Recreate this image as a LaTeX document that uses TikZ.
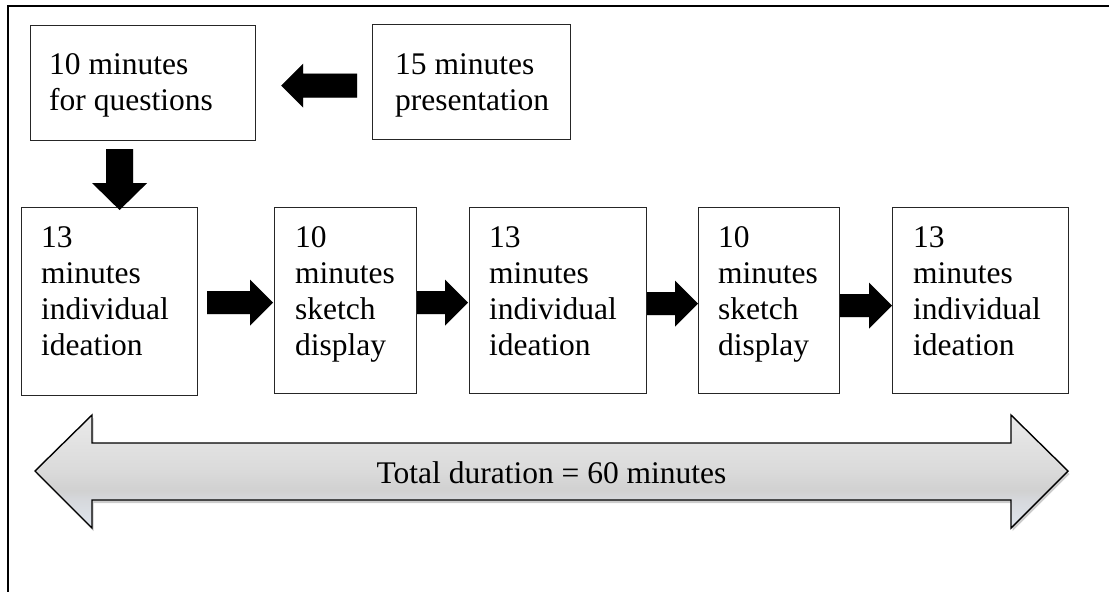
\documentclass[tikz,border=0pt]{standalone}
\usepackage{fontspec}
\setmainfont{Liberation Serif}
\usetikzlibrary{calc}

\definecolor{shA}{RGB}{224,230,238}
\definecolor{shB}{RGB}{214,216,220}
\definecolor{shC}{RGB}{209,209,209}
\definecolor{shD}{RGB}{218,218,218}
\definecolor{shE}{RGB}{226,226,226}
\definecolor{shF}{RGB}{234,234,234}
\pgfdeclareverticalshading{durationfill}{100bp}{%
  color(0bp)=(shA); color(25bp)=(shA); color(37.4bp)=(shB); color(41.8bp)=(shC);
  color(50bp)=(shD); color(62.6bp)=(shE); color(75bp)=(shF); color(100bp)=(shF)}

\tikzset{
  stage/.style={draw=black!85, line width=1.2pt, fill=white, inner sep=0pt, anchor=north west},
  stagetext/.style={anchor=base west, align=left, inner sep=0pt,
    font=\fontsize{31.5}{36}\selectfont},
  blockfill/.style={fill=black},
  blockshadow/.style={fill=black, opacity=0.25, xshift=1pt, yshift=-2pt},
  bigarrow/.style={draw=black, line width=1.4pt, line join=miter, shading=durationfill},
  bigshadow/.style={fill=black, opacity=0.2, xshift=1.5pt, yshift=-3pt},
}

% block arrows: #1 style, #2 tail point, #3 tip point
\newcommand\rblock[3]{%
  \fill[#1] let \p1=(#2), \p2=(#3) in
    (\x1,\y2+11.5pt) -- (\x2-23pt,\y2+11.5pt) -- (\x2-23pt,\y2+23pt) -- (\x2,\y2)
    -- (\x2-23pt,\y2-23pt) -- (\x2-23pt,\y2-11.5pt) -- (\x1,\y2-11.5pt) -- cycle;}
\newcommand\lblock[3]{%
  \fill[#1] let \p1=(#2), \p2=(#3) in
    (\x1,\y2+12pt) -- (\x2+22pt,\y2+12pt) -- (\x2+22pt,\y2+22pt) -- (\x2,\y2)
    -- (\x2+22pt,\y2-22pt) -- (\x2+22pt,\y2-12pt) -- (\x1,\y2-12pt) -- cycle;}
\newcommand\dblock[3]{%
  \fill[#1] let \p1=(#2), \p2=(#3) in
    (\x2+13.5pt,\y1) -- (\x2+13.5pt,\y2+27pt) -- (\x2+27.5pt,\y2+27pt) -- (\x2,\y2)
    -- (\x2-27.5pt,\y2+27pt) -- (\x2-13.5pt,\y2+27pt) -- (\x2-13.5pt,\y1) -- cycle;}

\begin{document}
\begin{tikzpicture}[x=1pt, y=-1pt]
\useasboundingbox (0,0) rectangle (1109,592);
\fill[white] (0,0) rectangle (1109,592);

% outer frame
\draw[line width=2.2pt] (8,592) -- (8,6) -- (1109,6);

% stages
\node[stage, minimum width=225pt, minimum height=115pt] (q)  at (30,25)  {};
\node[stage, minimum width=198pt, minimum height=115pt] (p)  at (372,24) {};
\node[stage, minimum width=176pt, minimum height=188pt] (b1) at (21,207) {};
\node[stage, minimum width=142pt, minimum height=186pt] (b2) at (274,207) {};
\node[stage, minimum width=177pt, minimum height=186pt] (b3) at (469,207) {};
\node[stage, minimum width=141pt, minimum height=186pt] (b4) at (698,207) {};
\node[stage, minimum width=176pt, minimum height=186pt] (b5) at (892,207) {};

% texts: the base anchor sits on the last line
\node[stagetext] (tq)  at ($(q.north west)+(19,85.5)$)  {10 minutes\\for questions};
\node[stagetext] (tp)  at ($(p.north west)+(23,86.5)$)  {15 minutes\\presentation};
\node[stagetext] (t1)  at ($(b1.north west)+(20,148)$) {13\\minutes\\individual\\ideation};
\node[stagetext] (t2)  at ($(b2.north west)+(21,148)$) {10\\minutes\\sketch\\display};
\node[stagetext] (t3)  at ($(b3.north west)+(20,148)$) {13\\minutes\\individual\\ideation};
\node[stagetext] (t4)  at ($(b4.north west)+(20,148)$) {10\\minutes\\sketch\\display};
\node[stagetext] (t5)  at ($(b5.north west)+(21,148)$) {13\\minutes\\individual\\ideation};

% connectors between stages
\foreach \s in {blockshadow, blockfill}{
  \lblock{\s}{$(p.west)+(-15,0)$}{$(q.east)+(25,2.5)$}
  \dblock{\s}{$(q.south)+(-24,8)$}{$(b1.north)+(10,3)$}
  \rblock{\s}{$(b1.east)+(9,0)$}{$(b2.west)+(-1,2)$}
  \rblock{\s}{$(b2.east)$}{$(b3.west)+(-1,2)$}
  \rblock{\s}{$(b3.east)$}{$(b4.west)+(0,3)$}
  \rblock{\s}{$(b4.east)$}{$(b5.west)+(0,5)$}
}

% overall duration
\fill[bigshadow] (35,471) -- (92,415) -- (92,443) -- (1011,443) -- (1011,415) -- (1068,471)
  -- (1011,528) -- (1011,500) -- (92,500) -- (92,528) -- cycle;
\path[bigarrow] (35,471) -- (92,415) -- (92,443) -- (1011,443) -- (1011,415) -- (1068,471)
  -- (1011,528) -- (1011,500) -- (92,500) -- (92,528) -- cycle;
\node[anchor=base, inner sep=0pt, font=\fontsize{31.5}{36}\selectfont] (total) at (551.5,483)
  {Total duration = 60 minutes};
\end{tikzpicture}
\end{document}
